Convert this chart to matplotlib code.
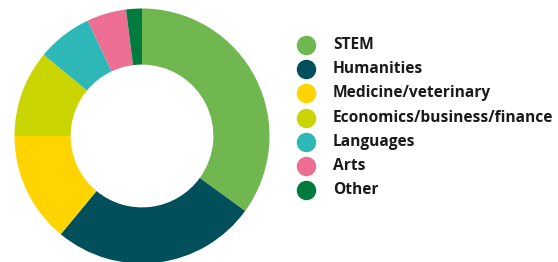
import matplotlib
matplotlib.use("Agg")
import matplotlib.pyplot as plt

categories = ["STEM", "Humanities", "Medicine/veterinary", "Economics/business/finance",
              "Languages", "Arts", "Other"]
shares = [35, 26, 14, 11, 7, 5, 2]
colors = ["#70B74F", "#004F5A", "#FFD400", "#C9D400", "#2DB7B6", "#EC6E93", "#007B3E"]

W, H = 558, 262
fig = plt.figure(figsize=(W / 100, H / 100), dpi=100)

# donut: centre (142, 136) px, outer radius 127.5 px
cx, cy, r = 142, 136, 127.5
ax = fig.add_axes([(cx - r) / W, (H - cy - r) / H, 2 * r / W, 2 * r / H])
ax.pie(shares, colors=colors, startangle=90, counterclock=False, radius=1,
       wedgeprops=dict(width=0.44, edgecolor="none"))
ax.set_xlim(-1, 1)
ax.set_ylim(-1, 1)
ax.set_aspect("equal")
ax.axis("off")

# legend drawn by hand
lx, tx, y0, dy = 306, 333, 45, 24.2
for i, (name, c) in enumerate(zip(categories, colors)):
    y = H - (y0 + i * dy)
    fig.lines.append(plt.Line2D([lx / W], [y / H], marker="o", markersize=13,
                                color=c, linestyle="none", transform=fig.transFigure))
    fig.text(tx / W, y / H, name, ha="left", va="center", fontsize=11.2,
             family="Open Sans", fontweight="bold", color="#1a1a1a")

fig.savefig("out.png", dpi=100)
